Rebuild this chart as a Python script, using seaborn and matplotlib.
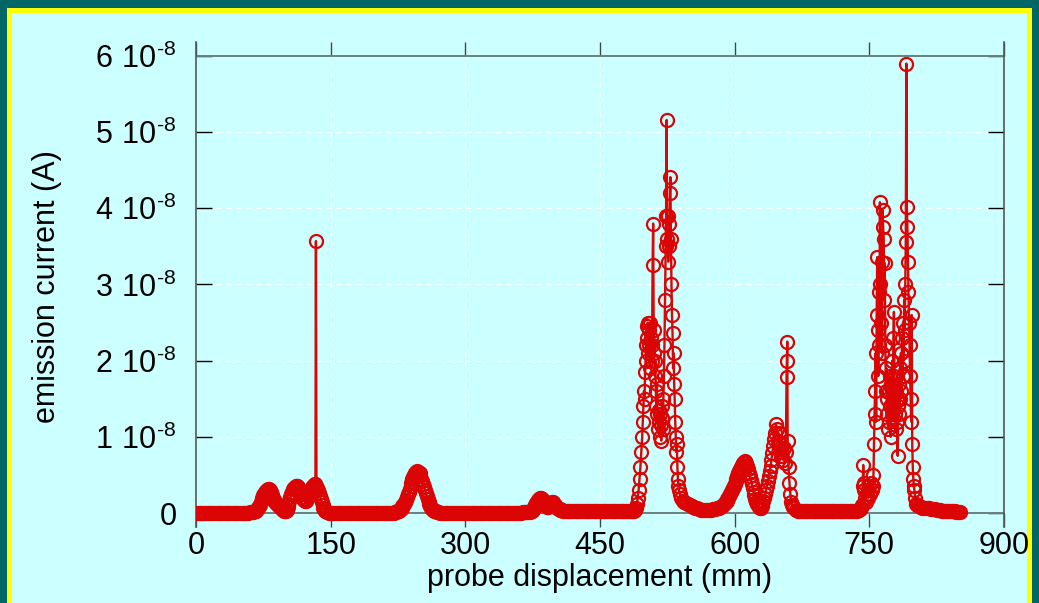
import numpy as np
import pandas as pd
import seaborn as sns
import matplotlib.pyplot as plt
from matplotlib.patches import Rectangle

# probe position (mm) and emission current (units of 1e-8 A)
x_a = [0, 2, 4, 6, 8, 10, 12, 14, 16, 18, 20, 22, 24, 26, 28, 30, 32, 34, 36, 38, 40,
       42, 44, 46, 48, 50, 52, 54, 56, 58, 60, 62, 64]
i_a = [0.0, 0.0, 0.0, 0.0, 0.0, 0.0, 0.0, 0.0, 0.0, 0.0, 0.0, 0.0, 0.0, 0.0, 0.0, 0.0, 0.0,
       0.0, 0.0, 0.0, 0.0, 0.0, 0.0, 0.0, 0.0, 0.0, 0.0, 0.0, 0.0, 0.0, 0.01, 0.01, 0.01]

x_b = [66, 67, 68, 69, 70, 71, 72, 73, 74, 75, 76, 77, 78, 79, 80, 81, 82, 83, 84, 85,
       86, 87, 88, 89, 90, 91, 92, 93, 94, 95, 96, 97, 98, 99, 100, 101, 102, 103, 104, 105,
       106, 107, 108, 109, 110, 111, 112, 113, 114, 115, 116, 117, 118, 119, 120, 121, 122, 123,
       124, 125, 126, 127, 128, 129, 130, 131, 132, 133, 133.6, 134.2,
       135, 136, 137, 138, 139, 140, 141, 142, 143, 144, 145, 146]
i_b = [0.02, 0.03, 0.05, 0.07, 0.09, 0.11, 0.14, 0.17, 0.2, 0.23, 0.25, 0.27, 0.29, 0.3, 0.31, 0.31, 0.3, 0.28, 0.26, 0.23,
       0.2, 0.17, 0.15, 0.13, 0.12, 0.11, 0.1, 0.09, 0.08, 0.07, 0.05, 0.04, 0.03, 0.03, 0.03, 0.04, 0.08, 0.12, 0.16, 0.21,
       0.25, 0.28, 0.31, 0.33, 0.34, 0.35, 0.35, 0.35, 0.34, 0.32, 0.28, 0.25, 0.21, 0.19, 0.17, 0.16, 0.16, 0.17,
       0.19, 0.22, 0.26, 0.29, 0.32, 0.34, 0.36, 0.37, 0.38, 0.38, 3.57, 0.36,
       0.33, 0.3, 0.26, 0.22, 0.18, 0.14, 0.1, 0.07, 0.05, 0.03, 0.02, 0.01]

x_c = [148, 150, 152, 154, 156, 158, 160, 162, 164, 166, 168, 170, 172, 174, 176, 178, 180, 182, 184,
       186, 188, 190, 192, 194, 196, 198, 200, 202, 204, 206, 208, 210, 212, 214, 216, 218, 220]
i_c = [0.0, 0.0, 0.0, 0.0, 0.0, 0.0, 0.0, 0.0, 0.0, 0.0, 0.0, 0.0, 0.0, 0.0, 0.0, 0.0, 0.0, 0.0, 0.0,
       0.0, 0.0, 0.0, 0.0, 0.0, 0.0, 0.0, 0.0, 0.0, 0.0, 0.0, 0.0, 0.0, 0.0, 0.0, 0.0, 0.0, 0.0]

x_d = [222, 223, 224, 225, 226, 227, 228, 229, 230, 231, 232, 233, 234, 235, 236, 237, 238, 239, 240,
       241, 242, 243, 244, 245, 246, 247, 248, 249, 250, 251, 252, 253, 254, 255, 256, 257, 258, 259,
       260, 261, 262, 263, 264, 265, 266, 267, 268, 269, 270]
i_d = [0.01, 0.01, 0.02, 0.02, 0.03, 0.04, 0.05, 0.07, 0.09, 0.1, 0.12, 0.15, 0.17, 0.21, 0.25, 0.28, 0.32, 0.36, 0.4,
       0.44, 0.47, 0.5, 0.53, 0.54, 0.55, 0.54, 0.53, 0.52, 0.48, 0.45, 0.42, 0.38, 0.34, 0.3, 0.26, 0.22, 0.18, 0.15,
       0.12, 0.09, 0.07, 0.05, 0.04, 0.03, 0.02, 0.02, 0.01, 0.01, 0.01]

x_e = [272, 274, 276, 278, 280, 282, 284, 286, 288, 290, 292, 294, 296, 298, 300, 302, 304, 306, 308, 310,
       312, 314, 316, 318, 320, 322, 324, 326, 328, 330, 332, 334, 336, 338, 340, 342, 344, 346, 348, 350,
       352, 354, 356, 358, 360, 362, 364, 366, 368, 370]
i_e = [0.0, 0.0, 0.0, 0.0, 0.0, 0.0, 0.0, 0.0, 0.0, 0.0, 0.0, 0.0, 0.0, 0.0, 0.0, 0.0, 0.0, 0.0, 0.0, 0.0,
       0.0, 0.0, 0.0, 0.0, 0.0, 0.0, 0.0, 0.0, 0.0, 0.0, 0.0, 0.0, 0.0, 0.0, 0.0, 0.0, 0.0, 0.0, 0.0, 0.0,
       0.0, 0.0, 0.0, 0.0, 0.0, 0.0, 0.01, 0.01, 0.01, 0.01]

x_f = [372, 373, 374, 375, 376, 377, 378, 379, 380, 381, 382, 383, 384, 385, 386, 387, 388, 389, 390, 391,
       392, 393, 394, 395, 396, 397, 398, 399, 400, 401, 402, 403, 404, 405, 406, 407, 408, 409, 410]
i_f = [0.01, 0.02, 0.03, 0.04, 0.06, 0.08, 0.1, 0.13, 0.15, 0.17, 0.19, 0.2, 0.2, 0.19, 0.17, 0.14, 0.12, 0.1, 0.09, 0.08,
       0.08, 0.09, 0.1, 0.12, 0.13, 0.14, 0.14, 0.12, 0.1, 0.08, 0.07, 0.06, 0.05, 0.05, 0.04, 0.04, 0.04, 0.03, 0.03]

x_g = [412, 414, 416, 418, 420, 422, 424, 426, 428, 430, 432, 434, 436, 438, 440, 442, 444, 446, 448,
       450, 452, 454, 456, 458, 460, 462, 464, 466, 468, 470, 472, 474, 476, 478, 480, 482, 484, 486]
i_g = [0.03, 0.03, 0.03, 0.03, 0.03, 0.03, 0.03, 0.02, 0.02, 0.02, 0.02, 0.02, 0.02, 0.02, 0.02, 0.02, 0.02, 0.02, 0.02,
       0.02, 0.02, 0.02, 0.02, 0.02, 0.02, 0.02, 0.02, 0.02, 0.02, 0.02, 0.02, 0.02, 0.02, 0.02, 0.02, 0.02, 0.02, 0.02]

x_h = [488, 489, 490, 491, 492, 493, 494, 495, 496, 497,
       497.7, 498.4, 499, 499.6, 500.2, 500.8, 501.4, 502, 502.6, 503.2,
       503.8, 504.4, 505, 505.6, 506.2, 506.8, 507.4, 508, 508.6, 509.2,
       509.8, 510.4, 511, 511.6, 512.2, 512.8, 513.4, 514, 514.6, 515.2,
       515.8, 516.4, 517, 517.6, 518.2, 518.8, 519.4, 520, 520.6, 521.2,
       521.8, 522.4, 523, 523.6, 524.2, 524.8, 525.4, 526, 526.6, 527.2,
       527.8, 528.4, 529, 529.6, 530.2, 530.8, 531.4, 532, 532.6, 533.2,
       533.8, 534.4, 535, 535.6, 536.2, 536.8, 537.4, 538, 539, 540,
       542, 544, 546, 548, 550, 552, 554, 556, 558, 560]
i_h = [0.03, 0.04, 0.06, 0.12, 0.2, 0.3, 0.45, 0.6, 0.8, 1.0,
       1.2, 1.4, 1.6, 1.5, 1.85, 2.0, 2.2, 2.45, 2.3, 2.5,
       2.1, 2.4, 2.2, 1.9, 2.5, 2.3, 2.0, 2.2, 3.25, 3.8,
       2.4, 2.1, 1.8, 2.0, 1.6, 1.4, 1.7, 1.3, 1.1, 1.35,
       1.2, 1.0, 1.3, 1.15, 0.95, 1.25, 1.4, 1.1, 1.5, 1.8,
       2.2, 2.8, 3.5, 3.9, 5.16, 3.6, 3.9, 3.3, 3.8, 3.5,
       4.2, 4.41, 3.6, 3.0, 2.6, 2.36, 1.9, 2.1, 1.7, 1.5,
       1.2, 1.0, 0.8, 0.9, 0.6, 0.45, 0.35, 0.3, 0.25, 0.2,
       0.16, 0.15, 0.13, 0.12, 0.1, 0.09, 0.08, 0.07, 0.06, 0.05]

x_i = [562, 564, 566, 568, 570, 572, 574, 576, 578, 580, 582, 584]
i_i = [0.04, 0.04, 0.04, 0.04, 0.04, 0.04, 0.04, 0.05, 0.05, 0.06, 0.07, 0.08]

x_j = [586, 587, 588, 589, 590, 591, 592, 593, 594, 595, 596, 597, 598, 599, 600, 601, 602, 603, 604, 605,
       606, 607, 608, 609, 610, 611, 612, 613, 614, 615, 616, 617, 618, 619, 620, 621, 622, 623, 624, 625,
       626, 627, 628, 629, 630, 631, 632, 633, 634, 635, 636, 637, 638, 639, 640, 641, 642, 643, 644, 645,
       646, 647, 648, 649, 650, 651, 652, 653, 654, 655, 656, 657, 657.8, 658.2, 658.6,
       659, 660, 661, 662, 663, 664, 665, 666, 668, 670, 672]
i_j = [0.09, 0.1, 0.12, 0.13, 0.14, 0.16, 0.18, 0.2, 0.22, 0.25, 0.27, 0.3, 0.33, 0.35, 0.38, 0.42, 0.45, 0.48, 0.52, 0.55,
       0.58, 0.61, 0.63, 0.66, 0.67, 0.68, 0.67, 0.65, 0.62, 0.58, 0.53, 0.48, 0.43, 0.38, 0.33, 0.28, 0.23, 0.18, 0.15, 0.12,
       0.1, 0.08, 0.07, 0.07, 0.09, 0.12, 0.16, 0.2, 0.25, 0.3, 0.36, 0.42, 0.48, 0.55, 0.62, 0.7, 0.79, 0.88, 0.97, 1.05,
       1.17, 1.1, 0.95, 1.05, 0.85, 0.9, 0.75, 0.8, 0.7, 0.85, 0.65, 0.8, 1.78, 2.0, 2.25,
       0.95, 0.6, 0.4, 0.25, 0.15, 0.1, 0.08, 0.06, 0.04, 0.03, 0.03]

x_k = [674, 676, 678, 680, 682, 684, 686, 688, 690, 692, 694, 696, 698, 700, 702, 704, 706,
       708, 710, 712, 714, 716, 718, 720, 722, 724, 726, 728, 730, 732, 734, 736, 738, 740]
i_k = [0.02, 0.02, 0.02, 0.02, 0.02, 0.02, 0.02, 0.02, 0.02, 0.02, 0.02, 0.02, 0.02, 0.02, 0.02, 0.02, 0.02,
       0.02, 0.02, 0.02, 0.02, 0.02, 0.02, 0.02, 0.02, 0.02, 0.02, 0.02, 0.02, 0.03, 0.03, 0.03, 0.04, 0.05]

x_l = [741, 742, 742.6, 743.2, 743.8, 744.4, 745, 746, 747, 748, 749, 750, 751, 752, 753]
i_l = [0.06, 0.1, 0.35, 0.63, 0.4, 0.3, 0.2, 0.15, 0.25, 0.3, 0.2, 0.35, 0.25, 0.4, 0.3]

x_m = [754, 754.6, 755.2, 755.8, 756.4, 757, 757.6, 758.2, 758.8, 759.4,
       760, 760.6, 761.2, 761.8, 762.4, 763, 763.6, 764.2, 764.8, 765.4,
       766, 766.6, 767.2, 767.8, 768.4, 769, 769.6, 770.2, 770.8, 771.4,
       772, 772.6, 773.2, 773.8, 774.4, 775, 775.6, 776.2, 776.8, 777.4,
       778, 778.6, 779.2, 779.8, 780.4, 781, 781.6, 782.2, 782.8, 783.4,
       784, 784.6, 785.2, 785.8, 786.4, 787, 787.6, 788.2, 788.8, 789.4,
       790, 790.6, 791.2, 791.8, 792.4, 793, 793.6, 794.2, 794.8, 795.4,
       796, 796.6, 797.2, 797.8, 798.4, 799, 799.6, 800.2, 801, 802]
i_m = [0.35, 0.5, 0.9, 1.3, 1.6, 2.1, 1.2, 2.6, 3.36, 2.4,
       1.8, 2.9, 2.2, 4.08, 3.0, 2.5, 3.3, 2.1, 3.98, 3.75,
       3.6, 2.8, 3.28, 2.2, 1.6, 1.9, 1.3, 1.5, 1.1, 1.6,
       1.2, 1.8, 1.4, 1.0, 1.7, 1.3, 2.0, 1.5, 2.3, 2.64,
       1.8, 1.3, 1.6, 1.1, 1.5, 1.2, 0.75, 1.4, 1.7, 1.3,
       1.9, 1.5, 2.1, 1.6, 2.3, 1.8, 2.5, 2.0, 2.8, 2.4,
       3.0, 3.56, 5.9, 4.02, 3.75, 3.3, 2.9, 2.5, 2.2, 1.8,
       1.5, 1.2, 2.6, 0.9, 0.6, 0.45, 0.35, 0.3, 0.2, 0.12]

x_n = [803, 805, 807, 809, 811, 813, 815, 817, 819, 821, 823, 825, 827, 829, 831, 833, 835, 837, 839,
       841, 843, 845, 847, 849, 851]
i_n = [0.1, 0.09, 0.08, 0.07, 0.07, 0.06, 0.06, 0.06, 0.05, 0.05, 0.05, 0.04, 0.04, 0.04, 0.03, 0.03, 0.03, 0.03, 0.02,
       0.02, 0.02, 0.02, 0.01, 0.01, 0.01]

x_ticks = [0, 150, 300, 450, 600, 750, 900]
y_ticks = [0, 1, 2, 3, 4, 5, 6]
y_tick_labels = ['0'] + [r'$\mathregular{%d\ 10^{\text{-}8}}$' % k for k in y_ticks[1:]]

segments = [(x_a, i_a), (x_b, i_b), (x_c, i_c), (x_d, i_d), (x_e, i_e), (x_f, i_f), (x_g, i_g),
            (x_h, i_h), (x_i, i_i), (x_j, i_j), (x_k, i_k), (x_l, i_l), (x_m, i_m), (x_n, i_n)]
df = pd.concat([pd.DataFrame({'pos': xs, 'cur': ys}) for xs, ys in segments], ignore_index=True)
df['current'] = df['cur'] * 1e-8

plt.rcParams['font.family'] = ['Liberation Sans', 'DejaVu Sans']
plt.rcParams['mathtext.fontset'] = 'custom'
plt.rcParams['mathtext.rm'] = 'Liberation Sans'

W, H = 1039, 603
fig = plt.figure(figsize=(W / 100, H / 100), dpi=100, facecolor='#006666')
fig.patches.append(Rectangle((7 / W, 0), (1032 - 7) / W, (H - 8) / H, transform=fig.transFigure,
                             facecolor='#ffff00', edgecolor='none', zorder=-2))
fig.patches.append(Rectangle((12 / W, 0), (1027 - 12) / W, (H - 13) / H, transform=fig.transFigure,
                             facecolor='#ccffff', edgecolor='none', zorder=-1))

ax = fig.add_axes([196 / W, (H - 527) / H, 808 / W, 485 / H])
ax.set_facecolor('#ccffff')
ax.set_axisbelow(True)

red = '#dc0505'
sns.lineplot(data=df, x='pos', y='current', sort=False, estimator=None, ax=ax,
             color=red, linewidth=1.7, marker='o', markersize=9.4,
             markerfacecolor='none', markeredgecolor=red, markeredgewidth=1.6, zorder=3)

ax.axhline(0, color='#6a8080', linewidth=1.4, zorder=1)
ax.axhline(6e-8, color='#6a8080', linewidth=1.4, zorder=1)

ax.set_xlim(0, 900)
ax.set_ylim(-14 / 76.17 * 1e-8, (6 + 14 / 76.17) * 1e-8)
ax.set_xticks(x_ticks)
ax.set_yticks([v * 1e-8 for v in y_ticks])
ax.set_yticklabels(y_tick_labels)

ax.grid(True, color='white', linestyle=(0, (4, 4)), linewidth=0.9)

for side in ['top', 'bottom']:
    ax.spines[side].set_visible(False)
for side in ['left', 'right']:
    ax.spines[side].set_color('#505a5a')
    ax.spines[side].set_linewidth(1.2)

ax.tick_params(axis='x', direction='in', length=10, width=1, color='#404848',
               top=True, bottom=True, labelsize=22, pad=3)
ax.tick_params(axis='y', direction='in', length=11.5, width=1, color='black',
               left=True, right=True, labelsize=22, pad=14)

ax.set_xlabel('probe displacement (mm)', fontsize=22, labelpad=1)
ax.set_ylabel('emission current (A)', fontsize=22)
ax.yaxis.set_label_coords(-0.166, 0.495)

fig.savefig('out.png', dpi=100, facecolor=fig.get_facecolor())
